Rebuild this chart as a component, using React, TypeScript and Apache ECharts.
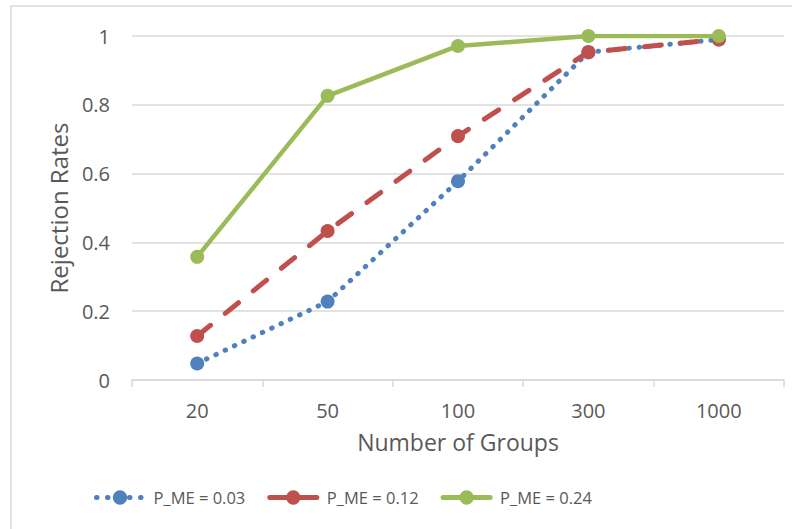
import React, { useEffect, useRef } from "react";
import * as echarts from "echarts";

const categories = ["20", "50", "100", "300", "1000"];
const seriesNames = ["P_ME = 0.03", "P_ME = 0.12", "P_ME = 0.24"];
const pme003 = [0.048, 0.228, 0.578, 0.953, 0.99];
const pme012 = [0.128, 0.433, 0.709, 0.953, 0.99];
const pme024 = [0.358, 0.826, 0.971, 1.0, 1.0];

const FONT = "'Open Sans', 'Liberation Sans', sans-serif";
const TEXT = "#595959";
const GRID = "#d9d9d9";
const COLORS = ["#4f81bd", "#c0504d", "#9bbb59"];
const LINE_STYLES: any[] = [
  { width: 5, type: [0.5, 9.8], cap: "round" },
  { width: 5, type: [17, 19], cap: "round" },
  { width: 4.5, type: "solid", cap: "round" },
];
const LEGEND_LINES: any[] = [
  { width: 5, type: [0.5, 10.5], cap: "round" },
  { width: 5, type: "solid", cap: "round" },
  { width: 5, type: "solid", cap: "round" },
];

export default function App() {
  const ref = useRef<HTMLDivElement>(null);

  useEffect(() => {
    if (!ref.current) return;
    const chart = echarts.init(ref.current, null, { renderer: "svg" });
    const series = seriesNames.map((name, i) => ({
      name,
      type: "line",
      data: [pme003, pme012, pme024][i],
      symbol: "circle",
      symbolSize: 14,
      itemStyle: { color: COLORS[i] },
      lineStyle: { color: COLORS[i], ...LINE_STYLES[i] },
      emphasis: { disabled: true },
    }));
    chart.setOption({
      animation: false,
      textStyle: { fontFamily: FONT, color: TEXT },
      graphic: [
        {
          type: "rect",
          shape: { x: 11, y: 6, width: 800, height: 600 },
          style: { fill: "none", stroke: GRID, lineWidth: 1.5 },
          silent: true,
        },
      ],
      grid: { left: 132, right: 8, top: 36, bottom: 149 },
      xAxis: {
        type: "category",
        data: categories,
        boundaryGap: true,
        axisLine: { lineStyle: { color: GRID, width: 1.5 } },
        axisTick: { show: true, length: 7, lineStyle: { color: GRID, width: 1.5 } },
        axisLabel: { color: TEXT, fontSize: 20, fontFamily: FONT, margin: 20 },
        name: "Number of Groups",
        nameLocation: "middle",
        nameGap: 50,
        nameTextStyle: { color: TEXT, fontSize: 23, fontFamily: FONT },
      },
      yAxis: {
        type: "value",
        min: 0,
        max: 1,
        interval: 0.2,
        axisLine: { show: false },
        axisTick: { show: false },
        splitLine: { lineStyle: { color: GRID, width: 1.5 } },
        axisLabel: { color: TEXT, fontSize: 20, fontFamily: FONT, margin: 22 },
        name: "Rejection Rates",
        nameLocation: "middle",
        nameGap: 57,
        nameTextStyle: { color: TEXT, fontSize: 24, fontFamily: FONT },
      },
      legend: {
        data: seriesNames.map((name, i) => ({
          name,
          lineStyle: { color: COLORS[i], ...LEGEND_LINES[i] },
        })),
        left: 89,
        top: 484,
        itemWidth: 47,
        itemHeight: 18,
        itemGap: 22,
        textStyle: { color: TEXT, fontSize: 16.5, fontFamily: FONT, padding: [0, 0, 0, 5] },
      },
      series,
    });
    return () => chart.dispose();
  }, []);

  return (
    <div
      ref={ref}
      style={{ position: "fixed", left: 0, top: 0, width: 792, height: 529, background: "#fff" }}
    />
  );
}
